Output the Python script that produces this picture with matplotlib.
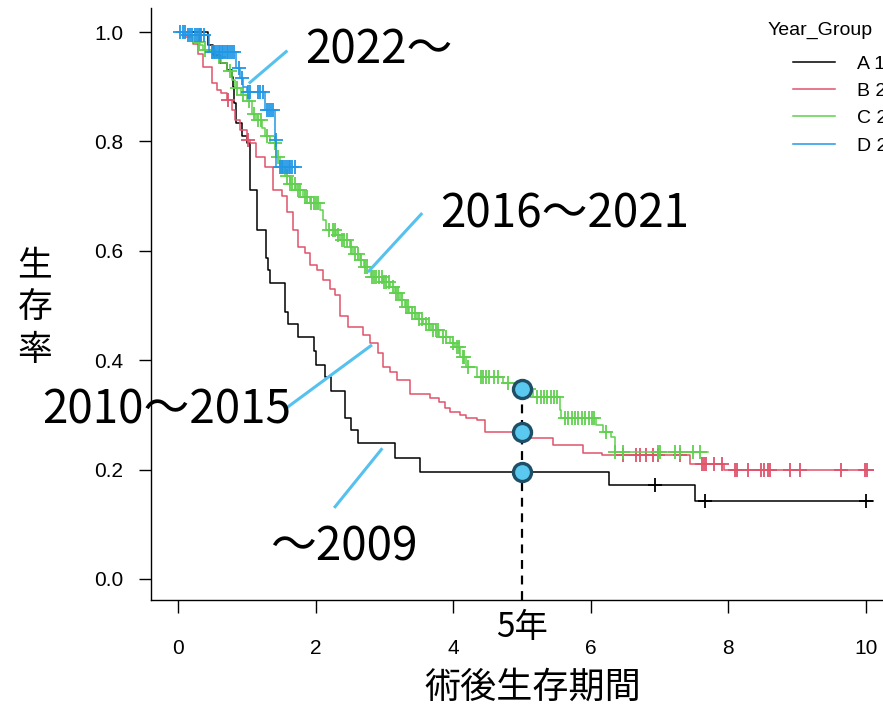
import numpy as np
import matplotlib.pyplot as plt

plt.rcParams['font.family'] = ['Liberation Sans', 'Noto Sans CJK JP', 'DejaVu Sans']

group_labels = ['A 1990～2009', 'B 2010～2015', 'C 2016～2021', 'D 2022～']
group_colors = ['#000000', '#DF536B', '#61D04F', '#2297E6']

# Kaplan-Meier steps: event times and survival just after each drop
a_times = [0.44, 0.51, 0.61, 0.71, 0.78, 0.80, 0.82, 0.84, 0.93, 1.00, 1.04, 1.15,
           1.28, 1.31, 1.34, 1.56, 1.60, 1.75, 1.97, 2.00, 2.14, 2.22, 2.43, 2.52,
           2.62, 3.15, 3.52, 6.27, 7.51]
a_surv = [0.976, 0.958, 0.943, 0.930, 0.918, 0.900, 0.870, 0.834, 0.809, 0.797, 0.711, 0.638,
          0.586, 0.565, 0.541, 0.489, 0.466, 0.443, 0.416, 0.392, 0.369, 0.344, 0.294, 0.272,
          0.248, 0.221, 0.196, 0.172, 0.143]
a_end = 10.1
a_censor = [6.93, 7.66, 10.0]

b_times = [0.07, 0.22, 0.29, 0.36, 0.49, 0.56, 0.63, 0.71, 0.78, 0.83, 0.90, 1.00,
           1.05, 1.14, 1.26, 1.38, 1.51, 1.58, 1.67, 1.75, 1.84, 1.92, 2.02, 2.11,
           2.21, 2.28, 2.35, 2.47, 2.69, 2.79, 2.91, 2.98, 3.08, 3.18, 3.37, 3.66,
           3.79, 3.88, 3.95, 4.10, 4.19, 4.34, 4.46, 5.12, 5.45, 5.89, 6.16, 7.44, 7.93]
b_surv = [0.990, 0.978, 0.960, 0.936, 0.907, 0.894, 0.888, 0.876, 0.857, 0.839, 0.821, 0.803,
          0.797, 0.772, 0.754, 0.711, 0.700, 0.671, 0.638, 0.607, 0.596, 0.574, 0.565, 0.547,
          0.531, 0.519, 0.480, 0.461, 0.446, 0.431, 0.413, 0.388, 0.379, 0.364, 0.339, 0.330,
          0.324, 0.312, 0.306, 0.300, 0.294, 0.291, 0.269, 0.257, 0.245, 0.230, 0.227, 0.210, 0.199]
b_end = 10.1
b_censor = [0.73, 1.02, 6.47, 6.66, 6.72, 6.80, 6.91, 6.98, 7.30, 7.61, 7.65, 7.68, 7.79,
            7.90, 8.10, 8.13, 8.29, 8.48, 8.52, 8.58, 8.61, 8.90, 9.04, 9.63, 9.99, 10.01]

c_times = [0.07, 0.22, 0.32, 0.36, 0.54, 0.63, 0.71, 0.78, 0.83, 0.92, 1.00, 1.07,
           1.14, 1.22, 1.26, 1.34, 1.43, 1.48, 1.55, 1.63, 1.72, 1.82, 1.92, 2.06,
           2.11, 2.15, 2.30, 2.35, 2.50, 2.55, 2.65, 2.70, 2.80, 2.98, 3.08, 3.15,
           3.22, 3.30, 3.36, 3.47, 3.56, 3.68, 3.80, 3.95, 4.03, 4.10, 4.19, 4.34,
           4.73, 4.97, 5.16, 5.55, 5.57, 6.08, 6.18, 6.30, 6.35]
c_surv = [0.995, 0.982, 0.976, 0.967, 0.955, 0.943, 0.928, 0.912, 0.898, 0.885, 0.873, 0.851,
          0.839, 0.824, 0.809, 0.797, 0.772, 0.754, 0.736, 0.723, 0.711, 0.699, 0.687, 0.675,
          0.656, 0.638, 0.628, 0.620, 0.607, 0.595, 0.583, 0.571, 0.553, 0.543, 0.534, 0.522,
          0.510, 0.498, 0.486, 0.476, 0.467, 0.455, 0.443, 0.431, 0.425, 0.406, 0.388, 0.370,
          0.358, 0.347, 0.333, 0.309, 0.294, 0.282, 0.269, 0.260, 0.233]
c_end = 7.70
c_censor = [0.30, 0.39, 0.60, 0.76, 0.86, 0.95, 1.03, 1.10, 1.17, 1.20, 1.29, 1.41, 1.45,
            1.50, 1.58, 1.63, 1.66, 1.70, 1.75, 1.78, 1.85, 1.88, 1.93, 1.97, 2.00, 2.03,
            2.20, 2.25, 2.28, 2.32, 2.38, 2.42, 2.45, 2.52, 2.58, 2.62, 2.66, 2.72, 2.75,
            2.82, 2.85, 2.88, 2.92, 2.96, 3.00, 3.03, 3.07, 3.12, 3.17, 3.20, 3.25, 3.32,
            3.35, 3.40, 3.45, 3.50, 3.55, 3.60, 3.65, 3.70, 3.75, 3.78, 3.85, 3.90, 4.00,
            4.05, 4.08, 4.14, 4.16, 4.22, 4.40, 4.43, 4.47, 4.52, 4.60, 4.65, 4.80, 5.02,
            5.05, 5.10, 5.22, 5.27, 5.32, 5.37, 5.42, 5.47, 5.51, 5.62, 5.67, 5.72, 5.77,
            5.82, 5.87, 5.92, 5.97, 6.02, 6.05, 6.22, 6.35, 6.47, 6.98, 7.01, 7.22, 7.30,
            7.49, 7.59]

d_times = [0.12, 0.45, 0.85, 0.90, 0.95, 1.00, 1.26, 1.41, 1.43]
d_surv = [0.994, 0.964, 0.935, 0.916, 0.900, 0.891, 0.857, 0.803, 0.754]
d_end = 1.72
d_censor = [0.03, 0.08, 0.10, 0.15, 0.18, 0.20, 0.25, 0.27, 0.30, 0.32, 0.34, 0.38,
            0.49, 0.52, 0.54, 0.57, 0.59, 0.61, 0.64, 0.66, 0.69, 0.71, 0.73, 0.76,
            0.78, 0.82, 0.88, 0.93, 1.02, 1.05, 1.17, 1.19, 1.23, 1.29, 1.32, 1.35,
            1.38, 1.42, 1.48, 1.51, 1.53, 1.56, 1.58, 1.61, 1.63, 1.66, 1.70]

x_ticks = [0, 2, 4, 6, 8, 10]
y_ticks = [0.0, 0.2, 0.4, 0.6, 0.8, 1.0]
y_tick_labels = ['0.0', '0.2', '0.4', '0.6', '0.8', '1.0']
landmark_year = 5.0

# callout text, text anchor (left, middle) and leader line ends
callout_texts = ['2022～', '2016～2021', '2010～2015', '～2009']
callout_text_xy = [(1.846, 0.967), (3.808, 0.666), (-1.977, 0.309), (1.337, 0.058)]
callout_lines = [((1.03, 0.906), (1.59, 0.966)),
                 ((2.76, 0.561), (3.55, 0.669)),
                 ((2.82, 0.428), (1.58, 0.313)),
                 ((2.97, 0.239), (2.27, 0.130))]


def km_path(times, surv, end):
    ''' Build the step path of a survival curve starting at (0, 1) '''
    t = np.concatenate([[0.0], times, [end]])
    s = np.concatenate([[1.0], surv, [surv[-1]]])
    return t, s


def surv_at(times, surv, x):
    ''' Survival value of the step curve at the times in x '''
    idx = np.searchsorted(times, x, side='right') - 1
    s = np.asarray(surv)
    return np.where(idx >= 0, s[np.maximum(idx, 0)], 1.0)


def main():
    fig = plt.figure(figsize=(8.83, 7.06), dpi=100)
    ax = fig.add_axes([151 / 883, 106 / 706, 732 / 883, 592 / 706])
    ax.set_xlim(-0.392, 10.247)
    ax.set_ylim(-0.0384, 1.0439)

    curves = [(a_times, a_surv, a_end, a_censor),
              (b_times, b_surv, b_end, b_censor),
              (c_times, c_surv, c_end, c_censor),
              (d_times, d_surv, d_end, d_censor)]
    for (times, surv, end, cens), color, label in zip(curves, group_colors, group_labels):
        t, s = km_path(times, surv, end)
        ax.step(t, s, where='post', color=color, lw=1.1, label=label)
        ax.plot(cens, surv_at(times, surv, cens), ls='none', marker='+',
                ms=10, mew=1.3, color=color)

    # five-year landmark
    five = [float(surv_at(times, surv, landmark_year)) for times, surv, _, _ in curves[:3]]
    ax.vlines(landmark_year, ax.get_ylim()[0], max(five), colors='black',
              linestyles=(0, (4, 3)), lw=1.6, zorder=4)
    ax.plot([landmark_year] * 3, five, ls='none', marker='o', ms=13,
            mfc='#5BC8F0', mec='#1F4F66', mew=2.4, zorder=5)
    ax.text(landmark_year, -0.088, '5年', ha='center', va='center', fontsize=24,
            family=['Noto Sans CJK JP'], clip_on=False)

    for text, (tx, ty), (p0, p1) in zip(callout_texts, callout_text_xy, callout_lines):
        ax.plot([p0[0], p1[0]], [p0[1], p1[1]], color='#56C1EE', lw=2.2,
                solid_capstyle='butt', clip_on=False, zorder=3)
        ax.text(tx, ty, text, ha='left', va='center', fontsize=33,
                family=['Noto Sans CJK JP'], clip_on=False)

    ax.spines['top'].set_visible(False)
    ax.spines['right'].set_visible(False)
    ax.spines['left'].set_linewidth(1.0)
    ax.spines['bottom'].set_linewidth(1.0)
    ax.set_xticks(x_ticks)
    ax.set_yticks(y_ticks)
    ax.set_yticklabels(y_tick_labels)
    ax.tick_params(axis='both', direction='out', length=9, width=1.0, labelsize=15)
    ax.tick_params(axis='x', pad=19)
    ax.tick_params(axis='y', pad=11)

    fig.text(533 / 883, 1 - 688 / 706, '術後生存期間', ha='center', va='center',
             fontsize=26, family=['Noto Sans CJK JP'])
    fig.text(35 / 883, 1 - 308 / 706, '生\n存\n率', ha='center', va='center',
             fontsize=25, linespacing=1.27, family=['Noto Sans CJK JP'])

    fig.text(768 / 883, 1 - 30 / 706, 'Year_Group', ha='left', va='center', fontsize=14)
    handles, labels = ax.get_legend_handles_labels()
    fig.legend(handles, labels, loc='upper left', bbox_to_anchor=(793 / 883, 1 - 55 / 706),
               frameon=False, fontsize=14, borderpad=0, borderaxespad=0,
               handlelength=2.16, handletextpad=1.13, labelspacing=0.5)

    fig.savefig('out.png', dpi=100)


if __name__ == '__main__':
    main()
